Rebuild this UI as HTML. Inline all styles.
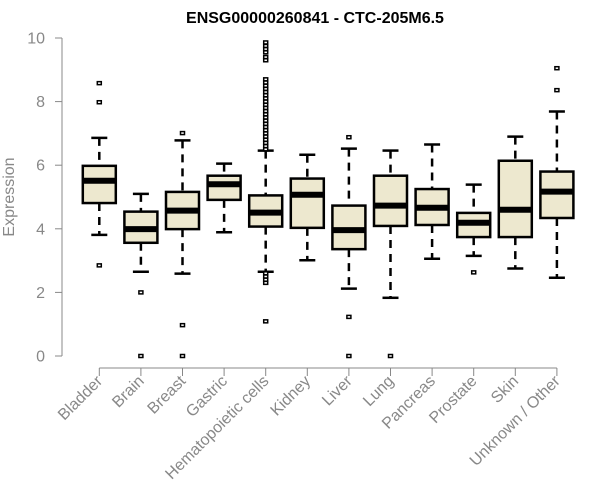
<!DOCTYPE html>
<html><head><meta charset="utf-8"><style>
body{margin:0;background:#fff}
svg{display:block;font-family:"Liberation Sans",Arial,sans-serif}
</style></head><body>
<svg id="chart" width="600" height="500">
<text x="315" y="23" text-anchor="middle" font-weight="bold" font-size="16" fill="#000">ENSG00000260841 - CTC-205M6.5</text>
<text transform="translate(14,197) rotate(-90)" text-anchor="middle" font-size="16" fill="#888">Expression</text>
<g id="yaxis"></g>
<g id="xaxis"></g>
<g id="boxes"></g>
</svg>
<script>
const categories=["Bladder","Brain","Breast","Gastric","Hematopoietic cells","Kidney","Liver","Lung","Pancreas","Prostate","Skin","Unknown / Other"];
const whiskerLow=[3.81,2.65,2.59,3.89,2.65,3.01,2.12,1.83,3.06,3.15,2.75,2.46];
const q1=[4.81,3.56,3.99,4.91,4.07,4.03,3.36,4.09,4.12,3.74,3.74,4.34];
const medians=[5.51,3.99,4.57,5.40,4.51,5.07,3.96,4.73,4.66,4.19,4.60,5.17];
const q3=[5.98,4.54,5.16,5.67,5.05,5.58,4.73,5.67,5.25,4.50,6.14,5.80];
const whiskerHigh=[6.86,5.10,6.78,6.05,6.46,6.33,6.52,6.46,6.65,5.39,6.90,7.69];
const outliers=[[8.58,7.98,2.85],[2.0,0],[7.01,0.97,0],[],
[9.86,9.75,9.65,9.55,9.4,9.3,8.7,8.6,8.5,8.4,8.3,8.2,8.1,8.0,7.9,7.8,7.7,7.6,7.5,7.4,7.3,7.2,7.1,7.0,6.9,6.8,6.7,6.6,6.5,2.6,2.5,2.4,2.3,1.09],
[],[6.88,1.23,0],[0],[],[2.63],[],[9.05,8.36]];
const yTicks=[0,2,4,6,8,10];
const NS="http://www.w3.org/2000/svg";
const y=v=>356-v*31.8;
const x=i=>99.3+i*41.6;
function mk(tag,attrs,parent){const e=document.createElementNS(NS,tag);for(const k in attrs)e.setAttribute(k,attrs[k]);parent.appendChild(e);return e;}
const ya=document.getElementById('yaxis');
mk('line',{x1:62,x2:62,y1:y(0),y2:y(10),stroke:'#888','stroke-width':1},ya);
yTicks.forEach(t=>{
 mk('line',{x1:55,x2:62,y1:y(t),y2:y(t),stroke:'#888'},ya);
 const tx=mk('text',{x:45,y:y(t)+5.5,'text-anchor':'end','font-size':16,fill:'#888'},ya);
 
 
 tx.textContent=t;
});
const xa=document.getElementById('xaxis');
mk('line',{x1:x(0),x2:x(categories.length-1),y1:368,y2:368,stroke:'#888'},xa);
const bg=document.getElementById('boxes');
const hw=16.5;
categories.forEach((c,i)=>{
 const cx=x(i);
 mk('line',{x1:cx,x2:cx,y1:368,y2:376,stroke:'#888'},xa);
 const tx=mk('text',{transform:`translate(${cx+4},382) rotate(-45)`,'text-anchor':'end','font-size':16,fill:'#888'},xa);
 
 
 tx.textContent=c;
 const g=mk('g',{},bg);
 
 
 mk('line',{x1:cx,x2:cx,y1:y(whiskerHigh[i]),y2:y(q3[i]),stroke:'#000','stroke-width':2.5,'stroke-dasharray':'8,6'},g);
 mk('line',{x1:cx,x2:cx,y1:y(q1[i]),y2:y(whiskerLow[i]),stroke:'#000','stroke-width':2.5,'stroke-dasharray':'8,6'},g);
 mk('line',{x1:cx-8,x2:cx+8,y1:y(whiskerHigh[i]),y2:y(whiskerHigh[i]),stroke:'#000','stroke-width':2.5},g);
 mk('line',{x1:cx-8,x2:cx+8,y1:y(whiskerLow[i]),y2:y(whiskerLow[i]),stroke:'#000','stroke-width':2.5},g);
 mk('rect',{x:cx-hw,y:y(q3[i]),width:2*hw,height:y(q1[i])-y(q3[i]),fill:'#EDE8CF',stroke:'#000','stroke-width':2.5},g);
 mk('line',{x1:cx-hw,x2:cx+hw,y1:y(medians[i]),y2:y(medians[i]),stroke:'#000','stroke-width':6},g);
 outliers[i].forEach(v=>{
  const r=mk('rect',{x:cx-2,y:y(v)-1.5,width:4,height:3,fill:'#fff',stroke:'#000','stroke-width':1.5},g);
  
  
 });
});
</script>
</body></html>
